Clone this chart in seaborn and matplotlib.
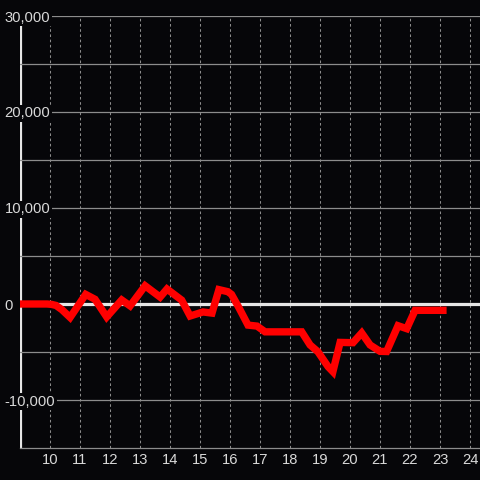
import matplotlib
matplotlib.use("Agg")
import matplotlib.pyplot as plt
import seaborn as sns
import pandas as pd

# ---- data ----
hours = [9.0, 9.9, 10.05, 10.2, 10.4, 10.67, 11.19, 11.5, 11.89, 12.39, 12.67,
         13.17, 13.67, 13.9, 14.39, 14.67, 15.1, 15.4, 15.63, 15.93, 16.05,
         16.3, 16.6, 16.9, 17.17, 18.39, 18.67, 18.93, 19.27, 19.43, 19.67,
         20.1, 20.39, 20.67, 21.0, 21.22, 21.6, 21.89, 22.17, 23.22]
values = [0, 0, -40, -150, -600, -1400, 1000, 490, -1350, 420, -200,
          1900, 720, 1560, 400, -1250, -830, -950, 1500, 1280, 1000,
          -400, -2200, -2300, -2900, -2900, -4270, -4970, -6530, -7050, -4000,
          -4030, -3020, -4270, -4930, -4950, -2260, -2570, -660, -660]
x_ticks = list(range(10, 25))
y_major = [-10000, 0, 10000, 20000, 30000]
y_minor = [-5000, 5000, 15000, 25000]
y_labels = ["-10,000", "0", "10,000", "20,000", "30,000"]

bg = "#060609"
txt = "#d9d9d9"
grid_c = "#8c8c8c"

sns.set_style("dark")
plt.rcParams["font.family"] = ["Liberation Sans", "DejaVu Sans"]

fig = plt.figure(figsize=(4.8, 4.8), dpi=100, facecolor=bg)
ax = fig.add_axes([20 / 480, 32 / 480, 460 / 480, 432 / 480])
ax.set_facecolor(bg)

df = pd.DataFrame({"hour": hours, "value": values})
sns.lineplot(data=df, x="hour", y="value", ax=ax, color="#ff0000",
             linewidth=5.3, solid_capstyle="butt", solid_joinstyle="miter",
             zorder=2)

ax.set_xlim(9, 9 + 460 / 30)
ax.set_ylim(-15000, 30000)
ax.set_xlabel("")
ax.set_ylabel("")

ax.set_axisbelow(True)
ax.set_xticks(x_ticks)
ax.set_xticklabels([str(t) for t in x_ticks])
ax.set_yticks(y_major)
ax.set_yticklabels(y_labels)
ax.set_yticks(y_minor, minor=True)

ax.xaxis.grid(True, which="major", color=grid_c, linestyle=(0, (2.5, 2.5)),
              linewidth=0.75)
ax.yaxis.grid(True, which="both", color=grid_c, linestyle="-", linewidth=0.9)

ax.tick_params(axis="x", length=0, pad=3.4, labelsize=10.6, colors=txt)
ax.tick_params(axis="y", which="both", length=0, pad=11.2, labelsize=10.6,
               colors=txt)

for lbl in ax.get_yticklabels():
    lbl.set_horizontalalignment("left")
    lbl.set_bbox(dict(facecolor=bg, edgecolor="none", pad=1.2))

for s in ["top", "right", "left"]:
    ax.spines[s].set_visible(False)
ax.spines["bottom"].set_color(grid_c)
ax.spines["bottom"].set_linewidth(0.9)

# left axis line (drawn beneath the tick labels) and zero line
ax.axvline(9, color="#e6e6e6", linewidth=2.3, zorder=0.3)
ax.axhline(0, color="#e6e6e6", linewidth=2.3, zorder=1)

fig.savefig("out.png", dpi=100, facecolor=bg)
